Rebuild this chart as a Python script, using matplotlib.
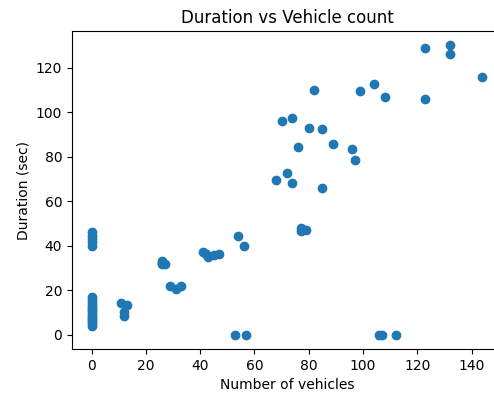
import matplotlib
matplotlib.use("Agg")
from matplotlib import pyplot as plt

# vehicles vs duration
vehicles = [0, 0, 0, 0, 0, 0, 0, 0, 0, 0, 0, 0, 0, 0, 0, 0, 0, 0,
            11, 13, 12, 12,
            26, 26, 27, 26,
            29, 31, 33,
            41, 42, 43, 45, 47,
            54, 56, 53, 57,
            68, 72, 74, 70, 74, 76, 80, 85, 89, 96, 97, 85,
            77, 77, 79,
            82, 99, 104, 108, 123, 123, 132, 132, 144,
            106, 107, 112]
duration = [46, 44.5, 43, 41.5, 40, 17, 15.5, 14, 13, 12, 11, 10, 9, 8, 7, 6, 5, 4,
            14, 13.5, 10, 8.5,
            33, 32, 31.5, 31.5,
            22, 20.5, 22,
            37, 36, 35, 35.6, 36,
            44.5, 40, 0, 0,
            69.5, 72.5, 68, 96, 97.5, 84.5, 93, 92.5, 85.5, 83.5, 78.5, 66,
            48, 46.5, 47,
            110, 109.5, 112.5, 107, 129, 106, 130, 126, 116,
            0, 0, 0]

fig = plt.figure(figsize=(4.94, 3.93), dpi=100)
ax = fig.add_axes([0.1457, 0.112, 0.8704, 0.809])
ax.scatter(vehicles, duration)
ax.set_title("Duration vs Vehicle count")
ax.set_xlabel("Number of vehicles")
ax.set_ylabel("Duration (sec)")

plt.savefig("out.png", dpi=100)
